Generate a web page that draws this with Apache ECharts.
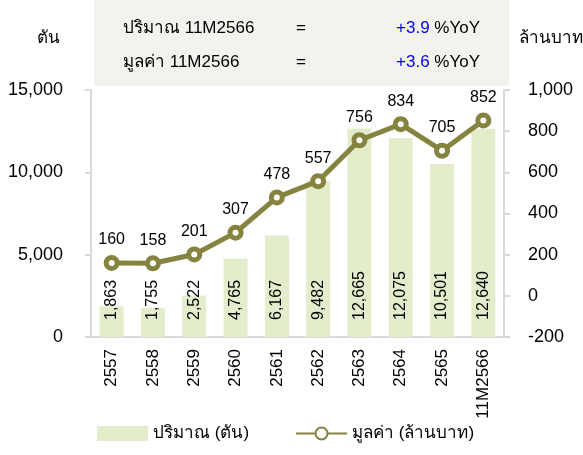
<!DOCTYPE html>
<html>
<head>
<meta charset="utf-8">
<script src="https://cdn.jsdelivr.net/npm/echarts@6/dist/echarts.min.js"></script>
<style>
  html, body { margin: 0; padding: 0; background: #fff; }
  #chart { width: 583px; height: 455px; }
</style>
</head>
<body>
<div id="chart"></div>
<script>
// ข้อมูล
const categories = ["2557", "2558", "2559", "2560", "2561", "2562", "2563", "2564", "2565", "11M2566"];
const volume = [1863, 1755, 2522, 4765, 6167, 9482, 12665, 12075, 10501, 12640];
const value = [160, 158, 201, 307, 478, 557, 756, 834, 705, 852];
const headerRows = [
  ["ปริมาณ 11M2566", "+3.9"],
  ["มูลค่า 11M2566", "+3.6"]
];

const FONT = "Arial, 'Liberation Sans', 'Noto Sans', sans-serif";
const OLIVE = "#84833f";
const BAR = "#e3edcb";
const AXIS = "#d9d9d9";

const chart = echarts.init(document.getElementById("chart"));

let graphic = [
  { type: "rect", left: 94, top: 0, shape: { width: 415, height: 86 }, style: { fill: "#f3f2ec" } },
  { type: "text", left: 37, top: 30, style: { text: "ตัน", font: "17px " + FONT, fill: "#000" } },
  { type: "text", left: 519, top: 30, style: { text: "ล้านบาท", font: "17px " + FONT, fill: "#000" } }
];
headerRows.forEach(function (r, i) {
  const y = 20 + i * 34;
  graphic.push({ type: "text", left: 123, top: y, style: { text: r[0], font: "17px " + FONT, fill: "#000" } });
  graphic.push({ type: "text", left: 296, top: y, style: { text: "=", font: "17px " + FONT, fill: "#000" } });
  graphic.push({
    type: "text", right: 103, top: y,
    style: {
      text: "{b|" + r[1] + "} %YoY",
      font: "17px " + FONT, fill: "#000",
      rich: { b: { fill: "#0000ff", font: "17px " + FONT } }
    }
  });
});

const option = {
  animation: false,
  textStyle: { fontFamily: FONT },
  graphic: graphic,
  grid: { left: 91, right: 79, top: 90, bottom: 118 },
  legend: {
    bottom: 8,
    left: 92,
    itemWidth: 51,
    itemHeight: 15,
    itemGap: 46,
    textStyle: { fontSize: 17, color: "#000", fontFamily: FONT },
    data: [
      { name: "ปริมาณ (ตัน)", icon: "rect" },
      { name: "มูลค่า (ล้านบาท)" }
    ]
  },
  xAxis: {
    type: "category",
    data: categories,
    axisLine: { lineStyle: { color: AXIS, width: 2 } },
    axisTick: { length: 6, lineStyle: { color: AXIS, width: 2 } },
    axisLabel: { rotate: 90, fontSize: 17, color: "#000", margin: 12 }
  },
  yAxis: [
    {
      type: "value", min: 0, max: 15000, interval: 5000,
      splitLine: { show: false },
      axisLine: { show: true, lineStyle: { color: AXIS, width: 2 } },
      axisTick: { show: true, length: 6, lineStyle: { color: AXIS, width: 2 } },
      axisLabel: {
        fontSize: 18, color: "#000", margin: 28,
        formatter: function (v) { return v.toLocaleString("en-US"); }
      }
    },
    {
      type: "value", min: -200, max: 1000, interval: 200,
      splitLine: { show: false },
      axisLine: { show: true, lineStyle: { color: AXIS, width: 2 } },
      axisTick: { show: true, length: 6, lineStyle: { color: AXIS, width: 2 } },
      axisLabel: {
        fontSize: 18, color: "#000", margin: 24,
        formatter: function (v) { return v.toLocaleString("en-US"); }
      }
    }
  ],
  series: [
    {
      name: "ปริมาณ (ตัน)",
      type: "bar",
      data: volume,
      barWidth: 24,
      itemStyle: { color: BAR },
      label: {
        show: true,
        position: "insideBottom",
        rotate: 90,
        align: "left",
        verticalAlign: "middle",
        distance: 17,
        fontSize: 16,
        color: "#000",
        formatter: function (p) { return p.value.toLocaleString("en-US"); }
      }
    },
    {
      name: "มูลค่า (ล้านบาท)",
      type: "line",
      yAxisIndex: 1,
      data: value,
      symbol: "circle",
      symbolSize: 11,
      lineStyle: { color: OLIVE, width: 5 },
      itemStyle: { color: "#fff", borderColor: OLIVE, borderWidth: 5 },
      label: { show: true, position: "top", distance: 7, fontSize: 16, color: "#000" }
    }
  ]
};

chart.setOption(option);
</script>
</body>
</html>
